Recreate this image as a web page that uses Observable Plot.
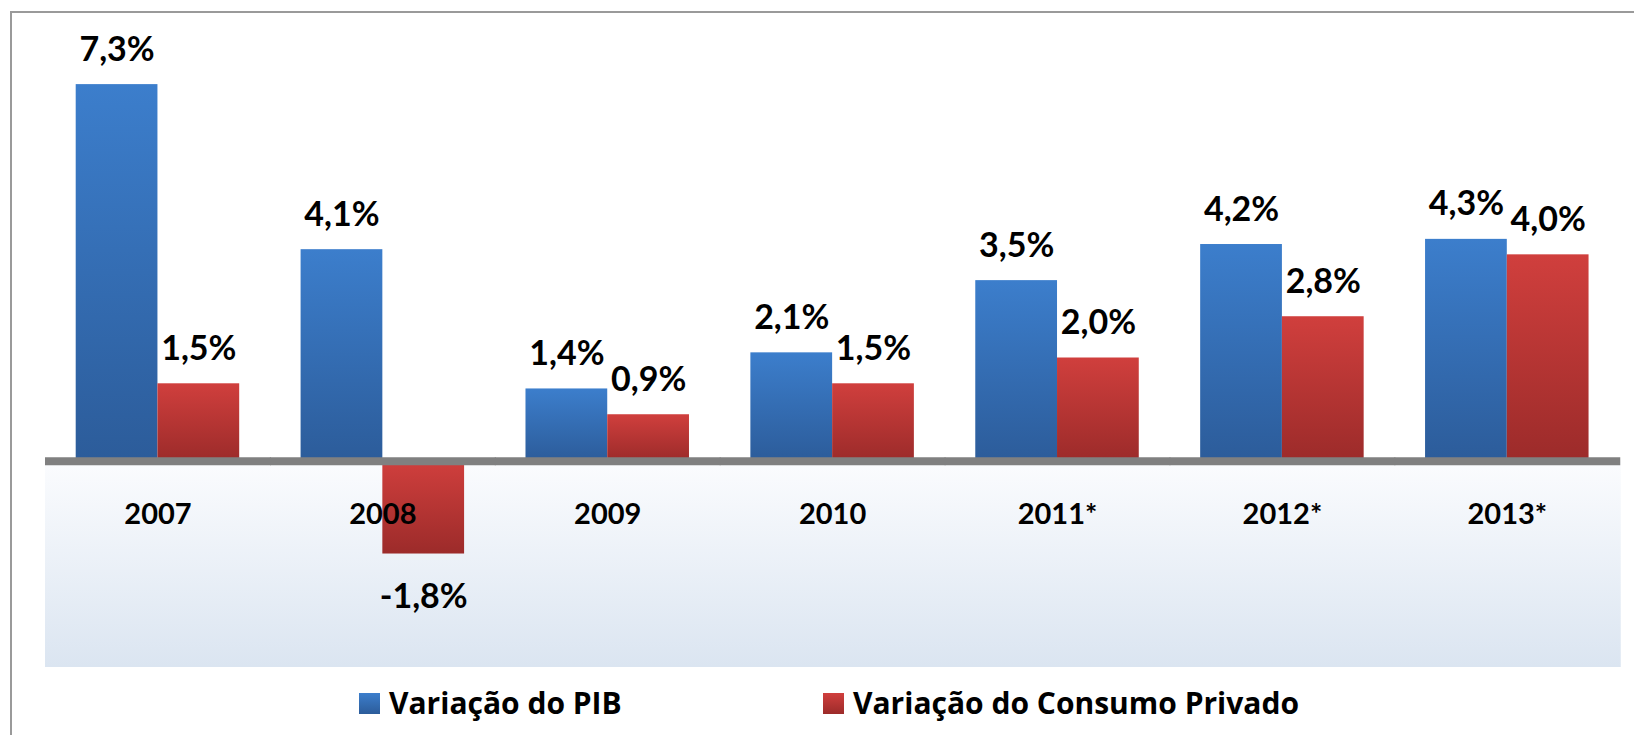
<!DOCTYPE html>
<html>
<head>
<meta charset="utf-8">
<script src="https://cdn.jsdelivr.net/npm/d3@7"></script>
<script src="https://cdn.jsdelivr.net/npm/@observablehq/plot@0.6"></script>
<style>
  html, body { margin: 0; padding: 0; background: #fff; width: 1634px; height: 735px; overflow: hidden; font-family: Lato, "Open Sans", sans-serif; }
  #wrap { position: relative; width: 1634px; height: 735px; }
  #frame { position: absolute; left: 10px; top: 11px; width: 1640px; height: 740px; border-left: 2px solid #9a9a9a; border-top: 2px solid #9a9a9a; pointer-events: none; z-index: 2; }
  #chart svg { display: block; }
  #legend { position: relative; height: 46px; line-height: 46px; font-family: "Open Sans", Lato, sans-serif; font-size: 30px; font-weight: 700; color: #000; white-space: nowrap; }
  #legend .item { position: absolute; top: 0; }
  #legend .sw { display: inline-block; width: 21px; height: 21px; margin-right: 9px; vertical-align: baseline; }
</style>
</head>
<body>
<div id="wrap">
  <div id="frame"></div>
  <div id="chart"></div>
  <div id="legend"></div>
</div>
<script>
// ---- data ----
const years = ["2007", "2008", "2009", "2010", "2011*", "2012*", "2013*"];
const pib = [7.3, 4.1, 1.4, 2.1, 3.5, 4.2, 4.3];
const consumo = [1.5, -1.8, 0.9, 1.5, 2.0, 2.8, 4.0];
const seriesNames = ["Variação do PIB", "Variação do Consumo Privado"];
const seriesColors = [["#3c7ecc", "#2c5c9a"], ["#d03f3d", "#9c2b2a"]];

const data = years.flatMap((yr, i) => [
  {year: yr, series: seriesNames[0], value: pib[i]},
  {year: yr, series: seriesNames[1], value: consumo[i]}
]);

const fmt = v => d3.format(".1f")(v).replace(".", ",").replace("\u2212", "-") + "%";

// layout
const W = 1634, H = 680, mL = 45, mR = 14.75;
const padInner = 0.273, padOuter = padInner / 2;
const step = (W - mL - mR) / years.length;
const halfGap = padInner * step / 2; // extends per-facet background across the gaps

const chart = Plot.plot({
  width: W,
  height: H,
  marginTop: 48,
  marginBottom: 13,
  marginLeft: mL,
  marginRight: mR,
  style: {background: "transparent", fontFamily: "Lato, 'Open Sans', sans-serif"},
  fx: {domain: years, paddingInner: padInner, paddingOuter: padOuter, round: false, axis: null, label: null},
  x: {domain: seriesNames, padding: 0, round: false, axis: null},
  y: {domain: [-4, 8], axis: null},
  marks: [
    Plot.rect(years, {fx: d => d, y1: () => 0, y2: () => -4, fill: "url(#gBg)", insetLeft: -halfGap, insetRight: -halfGap - 1.5}),
    Plot.barY(data.filter(d => d.series === seriesNames[0]), {fx: "year", x: "series", y: "value", fill: "url(#gBlue)"}),
    Plot.barY(data.filter(d => d.series === seriesNames[1]), {fx: "year", x: "series", y: "value", fill: "url(#gRed)"}),
    Plot.ruleY(years, {fx: d => d, y: () => 0, stroke: "#808080", strokeWidth: 8, insetLeft: -halfGap, insetRight: -halfGap - 1}),
    Plot.text(years, {fx: d => d, y: () => 0, text: d => d, lineAnchor: "top", dy: 42, fontSize: 29, fontWeight: "bold", fill: "#000"}),
    Plot.text(data.filter(d => d.value >= 0), {fx: "year", x: "series", y: "value", text: d => fmt(d.value), lineAnchor: "bottom", dy: -24, fontSize: 34, fontWeight: "bold", fill: "#000"}),
    Plot.text(data.filter(d => d.value < 0), {fx: "year", x: "series", y: "value", text: d => fmt(d.value), lineAnchor: "top", dy: 30, fontSize: 34, fontWeight: "bold", fill: "#000"})
  ]
});

// gradient definitions used by the fills
const defs = d3.select(chart).insert("defs", ":first-child");
function addGrad(id, c0, c1) {
  const g = defs.append("linearGradient").attr("id", id).attr("x1", 0).attr("y1", 0).attr("x2", 0).attr("y2", 1);
  g.append("stop").attr("offset", "0%").attr("stop-color", c0);
  g.append("stop").attr("offset", "100%").attr("stop-color", c1);
}
addGrad("gBlue", seriesColors[0][0], seriesColors[0][1]);
addGrad("gRed", seriesColors[1][0], seriesColors[1][1]);
addGrad("gBg", "#fbfcfe", "#dbe5f1");

document.getElementById("chart").appendChild(chart);

// legend
const legend = d3.select("#legend");
const lefts = [359, 823];
seriesNames.forEach((name, i) => {
  const it = legend.append("div").attr("class", "item").style("left", lefts[i] + "px");
  it.append("span").attr("class", "sw").style("background", `linear-gradient(${seriesColors[i][0]}, ${seriesColors[i][1]})`);
  it.append("span").text(name);
});
</script>
</body>
</html>
